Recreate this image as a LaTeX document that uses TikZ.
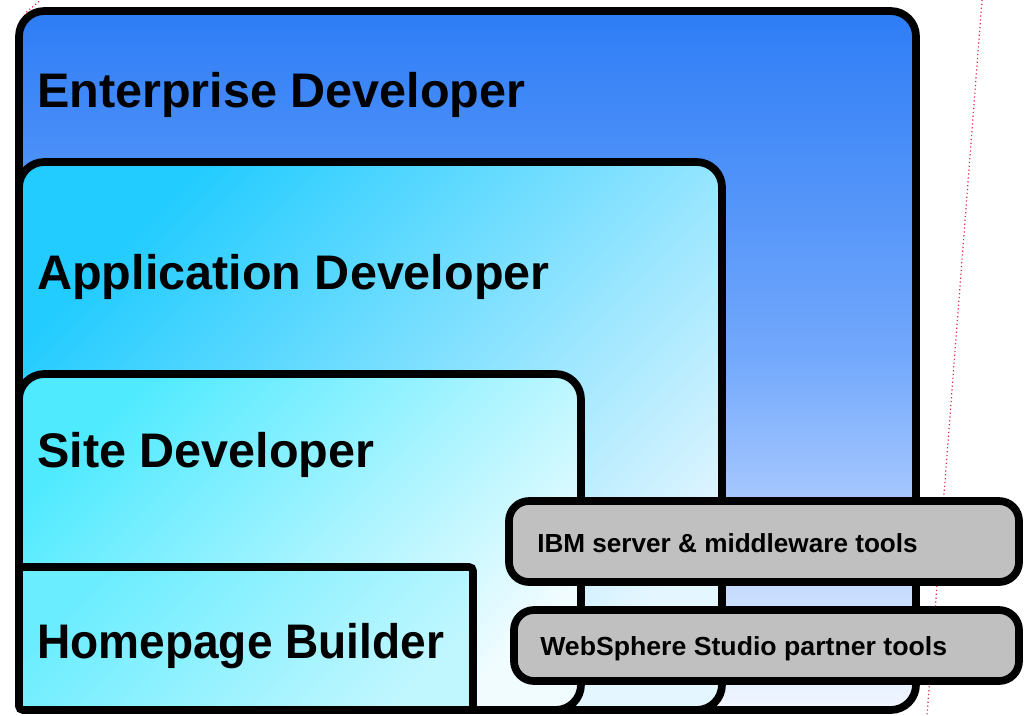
\documentclass[tikz,border=0pt]{standalone}
\usepackage{fontspec}
\setmainfont{Liberation Sans}
\usepackage{tikz}
\usetikzlibrary{calc, positioning}

\definecolor{entTop}{HTML}{2E7DF6}
\definecolor{entMid}{HTML}{74A9FC}
\definecolor{entBot}{HTML}{F2F6FF}
\definecolor{appTop}{HTML}{22CCFF}
\definecolor{appBot}{HTML}{E4F6FF}
\definecolor{siteTop}{HTML}{50EAFF}
\definecolor{siteBot}{HTML}{F0FCFF}
\definecolor{toolGray}{HTML}{C0C0C0}
\definecolor{guideRed}{HTML}{E0284A}

\tikzset{
  tier/.style={draw=black, line width=5.8pt, rounded corners=19pt},
  tool/.style={draw=black, line width=5.8pt, rounded corners=15pt, fill=toolGray},
  tiertext/.style={anchor=base west, inner sep=0pt, font=\fontsize{36.4}{40}\selectfont\bfseries},
  tooltext/.style={anchor=base west, inner sep=0pt, font=\fontsize{19.6}{22}\selectfont\bfseries},
  guide/.style={guideRed, line width=0.9pt, dotted}
}

\begin{document}
\begin{tikzpicture}[x=0.75pt, y=-0.75pt]
			\useasboundingbox (0,0) rectangle (1027,715);

			% Red guide lines behind everything
			\draw[guide] (982,0) -- (927,715);
			\draw[guide] (42,-1) -- (24,14);

			% Enterprise Developer tier
			\draw[tier, top color=entTop, bottom color=entBot, middle color=entMid] (19,11) rectangle (916,710);
			\node[tiertext] (enterprise) at (37,107) {Enterprise Developer};

			% Application Developer tier
			\draw[tier, top color=appTop, bottom color=appBot, shading angle=45] (19,162) rectangle (722,710);
			\node[tiertext] (application) at (37,289) {Application Developer};

			% Site Developer tier
			\draw[tier, top color=siteTop, bottom color=siteBot, shading angle=45] (19,374) rectangle (581,710);
			\node[tiertext] (site) at (37,467) {Site Developer};

			% Homepage Builder
			\draw[draw=black, line width=5.8pt, rounded corners=3pt, top color=siteTop!85!white, bottom color=siteBot!70!siteTop, shading angle=45] (19,567) rectangle (473,710);
			\node[tiertext] (homepage) at (37,658) {\scalebox{0.949}[1]{Homepage Builder}};

			% Tool boxes on top
			\draw[tool] (509,501) rectangle (1019,582);
			\node[tooltext] (ibmtools) at (537,552) {IBM server \& middleware tools};
			\draw[tool] (514,610) rectangle (1019,681);
			\node[tooltext] (partnertools) at (540,655) {\scalebox{1.02}[1]{WebSphere Studio partner tools}};
		\end{tikzpicture}
\end{document}
